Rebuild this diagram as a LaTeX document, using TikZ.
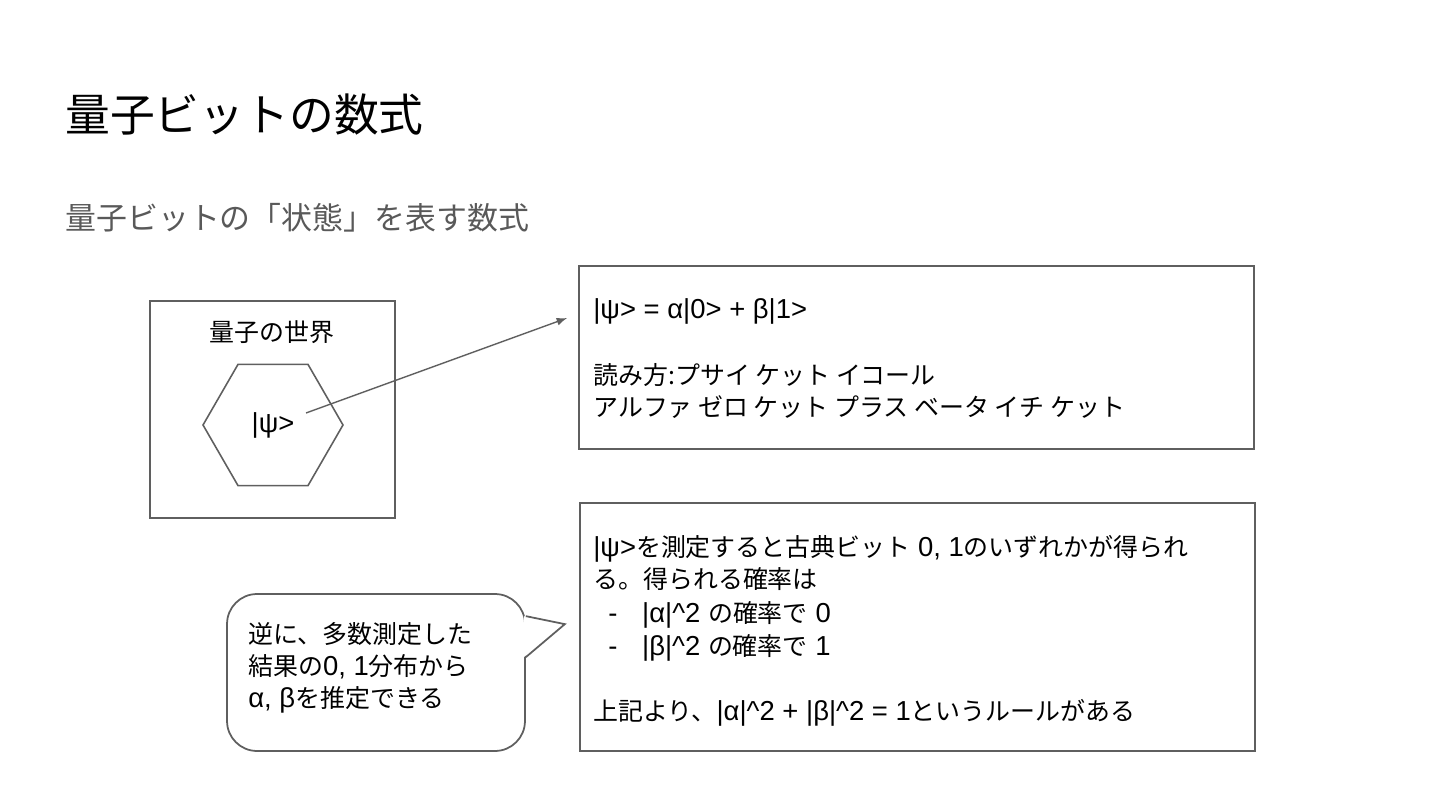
\documentclass[tikz,border=0pt]{standalone}
\usepackage{fontspec}
\setmainfont[Scale=1.1]{Liberation Sans}
\newfontfamily\jp{Noto Sans CJK JP}
\usetikzlibrary{shapes.geometric,arrows.meta,calc}
\definecolor{edgegray}{HTML}{5F5F5F}
\definecolor{subgray}{HTML}{595959}

\begin{document}
\begin{tikzpicture}[
    x=0.02cm, y=-0.02cm,
    frame/.style={
        rectangle,
        draw=edgegray,
        line width=1pt,
        inner sep=0pt
    },
    hexa/.style={
        regular polygon,
        regular polygon sides=6,
        draw=edgegray,
        line width=0.9pt,
        minimum size=2.8cm,
        inner sep=0pt,
        font=\fontsize{14.2}{18.4}\selectfont
    },
    bubble/.style={
        frame,
        fill=white,
        rounded corners=0.6cm
    },
    line/.style={
        anchor=base west,
        inner sep=0pt,
        font=\fontsize{14.2}{18.4}\selectfont
    },
    arrow/.style={
        -{Latex[length=6pt,width=4.5pt]},
        draw=edgegray,
        line width=0.8pt
    }
]

\useasboundingbox (0,0) rectangle (1440,810);

% --- Title ---
\node[anchor=base west, inner sep=0pt, font=\jp\fontsize{25.5}{30}\selectfont] (title) at (65,132) {量子ビットの数式};
\node[anchor=base west, inner sep=0pt, text=subgray, font=\jp\fontsize{17.6}{21}\selectfont] (subtitle) at (65,230) {量子ビットの「状態」を表す数式};

% --- Quantum world ---
\node[frame, minimum width=4.9cm, minimum height=4.34cm] (world) at (272.5,409.5) {};
\node[line, anchor=base] (worldlabel) at (272,342) {\jp 量子の世界};
\node[hexa] (qubit) at (273,425) {|ψ>};

% --- Equation box ---
\node[frame, minimum width=13.5cm, minimum height=3.66cm] (eqbox) at (916.5,357.5) {};
\node[line] (eqline) at (593,319) {|ψ> = α|0> + β|1>};
\node[line] (readline1) at (593,385) {\jp 読み方:プサイ ケット イコール};
\node[line] (readline2) at (593,417) {\jp アルファ ゼロ ケット プラス ベータ イチ ケット};

\coordinate (ketstart) at ($(qubit.center)+(33,-12)$);
\coordinate (ketend) at ($(eqbox.west)+(-11,-39.5)$);
\draw[arrow] (ketstart) -- (ketend);

% --- Measurement box ---
\node[frame, minimum width=13.5cm, minimum height=4.96cm] (measbox) at (917.5,627) {};
\node[line] (measline1) at (593,557) {|ψ>{\jp を測定すると古典ビット} 0, 1{\jp のいずれかが得られ}};
\node[line] (measline2) at (593,588) {\jp る。得られる確率は};
\node[line] (measline3) at (593,622) {\makebox[27.8pt][l]{\hspace{8.5pt}-}|α|\textasciicircum 2 {\jp の確率で} 0};
\node[line] (measline4) at (593,655) {\makebox[27.8pt][l]{\hspace{8.5pt}-}|β|\textasciicircum 2 {\jp の確率で} 1};
\node[line] (measline5) at (593,720) {{\jp 上記より、}|α|\textasciicircum 2 + |β|\textasciicircum 2 = 1{\jp というルールがある}};

% --- Callout ---
\node[bubble, minimum width=5.96cm, minimum height=3.14cm] (callout) at (376,672.5) {};
\fill[white] ($(callout.north east)+(-2,23)$) -- ($(callout.north east)+(39,31)$) -- ($(callout.north east)+(-2,64)$) -- cycle;
\draw[draw=edgegray, line width=1pt] ($(callout.north east)+(0,23)$) -- ($(callout.north east)+(39,31)$) -- ($(callout.north east)+(0,64)$);

\node[line] (noteline1) at (248,643) {\jp 逆に、多数測定した};
\node[line] (noteline2) at (248,675) {{\jp 結果の}0, 1{\jp 分布から}};
\node[line] (noteline3) at (248,707) {α, β{\jp を推定できる}};

\end{tikzpicture}
\end{document}
